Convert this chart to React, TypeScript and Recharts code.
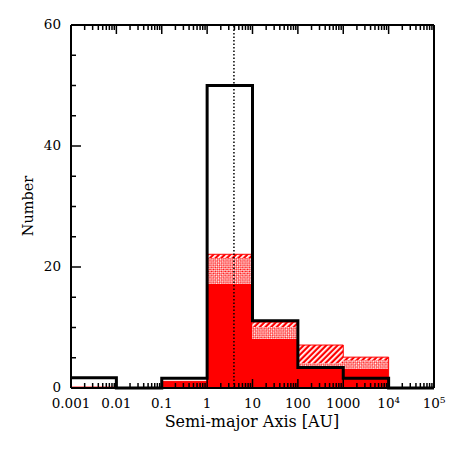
import React from 'react';
import {
  ComposedChart,
  Area,
  Line,
  XAxis,
  YAxis,
  ReferenceLine,
} from 'recharts';

// bin edges in log10(a / AU)
const binEdges = [-3, -2, -1, 0, 1, 2, 3, 4, 5];
// histogram values per bin (last entry closes the step at the right edge)
const totalCounts = [1.7, 0, 1.6, 50, 11.1, 3.4, 1.6, 0, 0];
const solidCounts = [0.15, 0, 1.1, 17.2, 8.1, 3.4, 3.2, 0, 0];
const crossCounts = [0, 0, 0, 4.3, 2, 0.7, 1.4, 0, 0];
const hatchCounts = [0, 0, 0, 0.6, 0.8, 3, 0.5, 0, 0];

const xMajorTicks = [-3, -2, -1, 0, 1, 2, 3, 4, 5];
const xTickLabels = ['0.001', '0.01', '0.1', '1', '10', '100', '1000', '10⁴', '10⁵'];
const yTicks = [0, 5, 10, 15, 20, 25, 30, 35, 40, 45, 50, 55, 60];
const yLabelled = [0, 20, 40, 60];
const dottedLineAU = 3.9;

const data = binEdges.map((x, i) => ({
  x,
  total: totalCounts[i],
  solid: solidCounts[i],
  cross: crossCounts[i],
  hatch: hatchCounts[i],
}));

// minor log ticks 2..9 inside each decade
const xMinorTicks: number[] = [];
xMajorTicks.slice(0, -1).forEach((d) => {
  for (let m = 2; m <= 9; m++) xMinorTicks.push(d + Math.log10(m));
});
const xAllTicks = [...xMajorTicks, ...xMinorTicks].sort((a, b) => a - b);

const FONT = '"DejaVu Serif", serif';
const isMajorX = (v: number) => Math.abs(v - Math.round(v)) < 1e-6;

const BottomTick = ({ x, y, payload }: any) => {
  const major = isMajorX(payload.value);
  const idx = xMajorTicks.indexOf(Math.round(payload.value));
  return (
    <g>
      <line x1={x} x2={x} y1={y} y2={y - (major ? 9 : 5)} stroke="#000" strokeWidth={1.5} />
      {major && (
        <text x={x} y={y + 20} textAnchor="middle" fontSize={13.5} fontFamily={FONT} fill="#000">
          {xTickLabels[idx]}
        </text>
      )}
    </g>
  );
};

const TopTick = ({ x, y, payload }: any) => {
  const major = isMajorX(payload.value);
  return <line x1={x} x2={x} y1={y} y2={y + (major ? 9 : 5)} stroke="#000" strokeWidth={1.5} />;
};

const LeftTick = ({ x, y, payload }: any) => {
  const major = yLabelled.includes(payload.value);
  return (
    <g>
      <line x1={x} x2={x + (major ? 10 : 5)} y1={y} y2={y} stroke="#000" strokeWidth={1.5} />
      {major && (
        <text x={x - 10} y={y + 4} textAnchor="end" fontSize={13.5} fontFamily={FONT} fill="#000">
          {payload.value}
        </text>
      )}
    </g>
  );
};

const RightTick = ({ x, y, payload }: any) => {
  const major = yLabelled.includes(payload.value);
  return <line x1={x} x2={x - (major ? 10 : 5)} y1={y} y2={y} stroke="#000" strokeWidth={1.5} />;
};

export default function App() {
  return (
    <div style={{ position: 'absolute', left: 0, top: 0, background: '#fff' }}>
      <ComposedChart
        width={458}
        height={458}
        data={data}
        margin={{ top: 15, right: 14, bottom: 40, left: 41 }}
      >
        <defs>
          <pattern id="hatch" width="4" height="4" patternUnits="userSpaceOnUse" patternTransform="rotate(45)">
            <rect width="4" height="4" fill="#ff0000" />
            <rect width="1.8" height="4" fill="#ffffff" />
          </pattern>
          <pattern id="cross" width="3" height="3" patternUnits="userSpaceOnUse" patternTransform="rotate(45)">
            <rect width="3" height="3" fill="#ff0000" />
            <rect width="1.6" height="1.6" fill="#ffffff" />
            <rect x="1.5" y="1.5" width="1.5" height="1.5" fill="#ffffff" />
          </pattern>
        </defs>
        <Area
          type="stepAfter"
          dataKey="solid"
          stackId="red"
          fill="#ff0000"
          fillOpacity={1}
          stroke="none"
          isAnimationActive={false}
        />
        <Area
          type="stepAfter"
          dataKey="cross"
          stackId="red"
          fill="url(#cross)"
          fillOpacity={1}
          stroke="none"
          isAnimationActive={false}
        />
        <Area
          type="stepAfter"
          dataKey="hatch"
          stackId="red"
          fill="url(#hatch)"
          fillOpacity={1}
          stroke="#ff0000"
          strokeWidth={1}
          isAnimationActive={false}
        />
        <ReferenceLine
          x={Math.log10(dottedLineAU)}
          stroke="#000"
          strokeWidth={1.5}
          strokeDasharray="1.5 2"
        />
        <Line
          type="stepAfter"
          dataKey="total"
          stroke="#000"
          strokeWidth={3}
          dot={false}
          activeDot={false}
          isAnimationActive={false}
        />
        <XAxis
          type="number"
          dataKey="x"
          domain={[-3, 5]}
          ticks={xAllTicks}
          interval={0}
          height={30}
          tickSize={0}
          tickMargin={0}
          tickLine={false}
          axisLine={{ stroke: '#000', strokeWidth: 2 }}
          tick={<BottomTick />}
        />
        <XAxis
          xAxisId="top"
          orientation="top"
          type="number"
          dataKey="x"
          domain={[-3, 5]}
          ticks={xAllTicks}
          interval={0}
          height={10}
          tickSize={0}
          tickMargin={0}
          tickLine={false}
          axisLine={{ stroke: '#000', strokeWidth: 2 }}
          tick={<TopTick />}
        />
        <YAxis
          type="number"
          domain={[0, 60]}
          ticks={yTicks}
          interval={0}
          width={30}
          tickSize={0}
          tickMargin={0}
          tickLine={false}
          axisLine={{ stroke: '#000', strokeWidth: 2 }}
          tick={<LeftTick />}
        />
        <YAxis
          yAxisId="right"
          orientation="right"
          type="number"
          domain={[0, 60]}
          ticks={yTicks}
          interval={0}
          width={10}
          tickSize={0}
          tickMargin={0}
          tickLine={false}
          axisLine={{ stroke: '#000', strokeWidth: 2 }}
          tick={<RightTick />}
        />
        <text x={252} y={427} textAnchor="middle" fontSize={16} fontFamily={FONT} fill="#000">
          Semi-major Axis [AU]
        </text>
        <text
          x={33}
          y={206}
          textAnchor="middle"
          fontSize={14.5}
          fontFamily={FONT}
          fill="#000"
          transform="rotate(-90 33 206)"
        >
          Number
        </text>
      </ComposedChart>
    </div>
  );
}
